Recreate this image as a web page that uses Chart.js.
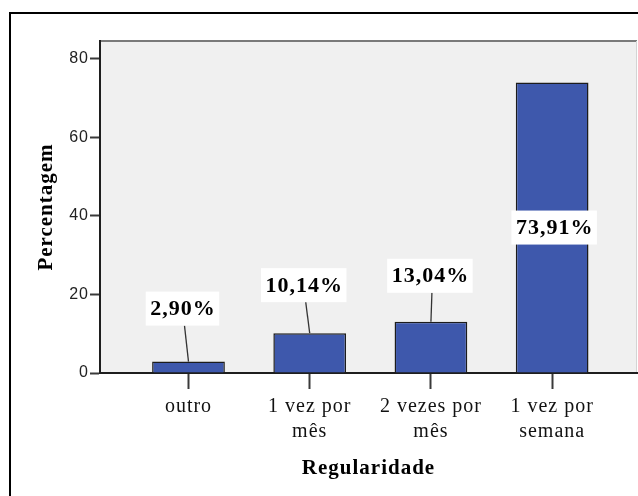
<!DOCTYPE html>
<html>
<head>
<meta charset="utf-8">
<script src="https://cdn.jsdelivr.net/npm/chart.js@4"></script>
<style>
  html, body { margin: 0; padding: 0; background: #fff; }
  #wrap { width: 638px; height: 496px; }
</style>
</head>
<body>
<div id="wrap"><canvas id="c" width="638" height="496"></canvas></div>
<script>
// Frequência de visitas por regularidade (percentagem de respostas)
const categories = ['outro', '1 vez por mês', '2 vezes por mês', '1 vez por semana'];
const tickLabels = [['outro'], ['1 vez por', 'mês'], ['2 vezes por', 'mês'], ['1 vez por', 'semana']];
const percentages = [2.90, 10.14, 13.04, 73.91];
const yTicks = [0, 20, 40, 60, 80];

// Placement of the value tags (style only)
const tagPlace = ['above', 'above', 'above', 'inside'];
const tagShiftX = [-6, -6, -1, 2];
const tagRise = [53, 48, 46, 0];

const serif = '"Liberation Serif", "Times New Roman", serif';
const sans = '"Liberation Sans", Arial, sans-serif';

const fmtPct = v => v.toFixed(2).replace('.', ',') + '%';

// Slightly wider text tracking for every label on the canvas
const tracking = {
  id: 'tracking',
  beforeUpdate(chart) { chart.ctx.letterSpacing = '1px'; },
  beforeDraw(chart) { chart.ctx.letterSpacing = '1px'; }
};

// Plot background, plot border and the outer frame line
const frame = {
  id: 'frame',
  beforeDraw(chart) {
    const { ctx, chartArea: a } = chart;
    ctx.save();
    ctx.fillStyle = '#f0f0f0';
    ctx.fillRect(a.left, a.top, a.right - a.left, a.bottom - a.top);
    ctx.strokeStyle = '#7a7a7a';
    ctx.lineWidth = 2;
    ctx.beginPath();
    ctx.moveTo(a.left, a.top);
    ctx.lineTo(a.right, a.top);
    ctx.stroke();
    ctx.strokeStyle = '#d4d4d4';
    ctx.lineWidth = 1;
    ctx.beginPath();
    ctx.moveTo(a.right - 0.5, a.top);
    ctx.lineTo(a.right - 0.5, a.bottom);
    ctx.stroke();
    ctx.strokeStyle = '#000';
    ctx.lineWidth = 2;
    ctx.beginPath();
    ctx.moveTo(10, chart.height);
    ctx.lineTo(10, 13);
    ctx.lineTo(chart.width, 13);
    ctx.stroke();
    ctx.restore();
  }
};

// White value tags with leader lines to the bar tops
const valueTags = {
  id: 'valueTags',
  afterDatasetsDraw(chart) {
    const { ctx } = chart;
    const meta = chart.getDatasetMeta(0);
    ctx.save();
    ctx.letterSpacing = '1px';
    ctx.font = 'bold 22px ' + serif;
    ctx.textAlign = 'center';
    ctx.textBaseline = 'middle';
    meta.data.forEach((bar, i) => {
      const text = fmtPct(percentages[i]);
      const w = ctx.measureText(text).width + 8;
      const h = 34;
      const cx = bar.x + tagShiftX[i];
      const inside = tagPlace[i] === 'inside';
      const cy = inside ? (bar.y + bar.base) / 2 : bar.y - tagRise[i];
      if (!inside) {
        ctx.strokeStyle = '#333';
        ctx.lineWidth = 1.3;
        ctx.beginPath();
        ctx.moveTo(cx + 2, cy + h / 2);
        ctx.lineTo(bar.x, bar.y);
        ctx.stroke();
      }
      ctx.fillStyle = '#fff';
      ctx.fillRect(cx - w / 2, cy - h / 2, w, h);
      ctx.fillStyle = '#000';
      ctx.fillText(text, cx + 0.5, cy + 1);
    });
    ctx.restore();
  }
};

new Chart(document.getElementById('c'), {
  type: 'bar',
  data: {
    datasets: [{
      data: categories.map((c, i) => ({ x: i, y: percentages[i] })),
      backgroundColor: '#3e58ac',
      borderColor: '#1c1c1c',
      borderWidth: 1.5,
      barPercentage: 0.6,
      categoryPercentage: 1
    }]
  },
  options: {
    responsive: false,
    animation: false,
    devicePixelRatio: 1,
    layout: { padding: { top: 41, right: 1, left: 0, bottom: 0 } },
    plugins: { legend: { display: false }, tooltip: { enabled: false } },
    scales: {
      x: {
        type: 'linear',
        min: -0.73,
        max: 3.70,
        offset: false,
        afterBuildTicks: s => { s.ticks = categories.map((c, i) => ({ value: i })); },
        afterFit: s => { s.height = 123; },
        grid: { offset: false, drawOnChartArea: false, tickLength: 16, tickWidth: 2, tickColor: '#3a3a3a' },
        border: { display: true, color: '#1e1e1e', width: 2 },
        ticks: {
          autoSkip: false, maxRotation: 0, minRotation: 0, padding: 5, color: '#111',
          font: { family: serif, size: 20, lineHeight: 1.25 },
          callback: v => tickLabels[v]
        },
        title: {
          display: true, text: 'Regularidade', color: '#000',
          font: { family: serif, size: 21, weight: 'bold', lineHeight: 1.2 },
          padding: { top: 0, bottom: 15 }
        }
      },
      y: {
        min: 0,
        max: 84.5,
        afterBuildTicks: s => { s.ticks = yTicks.map(v => ({ value: v })); },
        afterFit: s => { s.width = 100; },
        grid: { drawOnChartArea: false, tickLength: 10, tickWidth: 2, tickColor: '#3a3a3a' },
        border: { display: true, color: '#1e1e1e', width: 2 },
        ticks: { padding: 1, color: '#222', font: { family: sans, size: 16 } },
        title: {
          display: true, text: 'Percentagem', color: '#000',
          font: { family: serif, size: 21, weight: 'bold', lineHeight: 1.2 },
          padding: { top: 34, bottom: 0 }
        }
      }
    }
  },
  plugins: [tracking, frame, valueTags]
});
</script>
</body>
</html>
